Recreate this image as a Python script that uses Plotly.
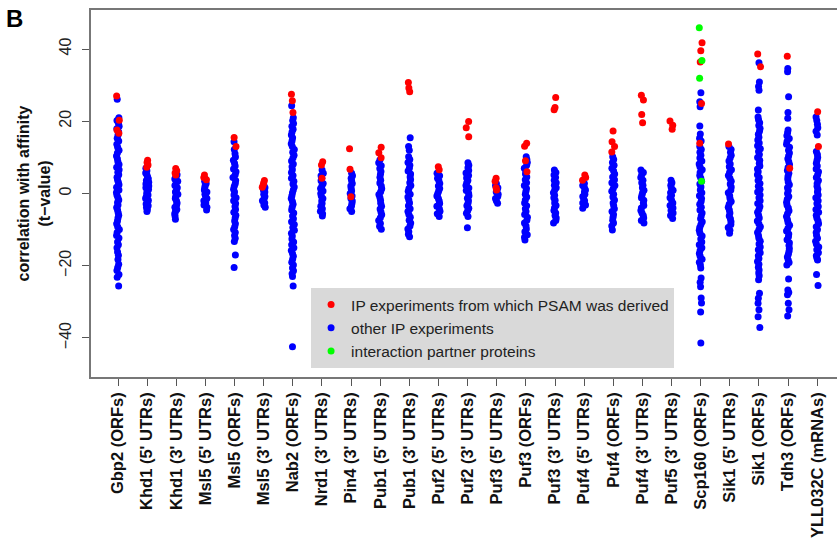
import plotly.graph_objects as go

categories = [
    "Gbp2 (ORFs)", "Khd1 (5' UTRs)", "Khd1 (3' UTRs)", "Msl5 (5' UTRs)",
    "Msl5 (ORFs)", "Msl5 (3' UTRs)", "Nab2 (ORFs)", "Nrd1 (3' UTRs)",
    "Pin4 (3' UTRs)", "Pub1 (5' UTRs)", "Pub1 (3' UTRs)", "Puf2 (5' UTRs)",
    "Puf2 (3' UTRs)", "Puf3 (5' UTRs)", "Puf3 (ORFs)", "Puf3 (3' UTRs)",
    "Puf4 (5' UTRs)", "Puf4 (ORFs)", "Puf4 (3' UTRs)", "Puf5 (3' UTRs)",
    "Scp160 (ORFs)", "Sik1 (5' UTRs)", "Sik1 (ORFs)", "Tdh3 (ORFs)",
    "YLL032C (mRNAs)",
]

# t-values of IP experiments from which the PSAM was derived (red)
psam_values = [
    [27.0, 20.3, 17.6, 16.7],
    [9.2, 8.6, 7.9, 7.3],
    [6.9, 6.3, 5.7, 5.1],
    [5.1, 4.4, 3.8],
    [15.5, 13.0],
    [3.6, 2.9, 2.3, 1.7],
    [27.5, 25.7, 22.4],
    [8.8, 7.9, 4.2],
    [12.4, 6.7, -0.9],
    [12.8, 11.3, 9.9],
    [30.7, 29.2, 28.2],
    [7.4, 6.6],
    [19.9, 18.2, 15.7],
    [4.2, 3.4, 1.6, 1.0],
    [13.9, 13.1, 9.1, 6.0],
    [26.6, 23.8, 23.2],
    [5.1, 4.4, 3.7],
    [17.3, 14.3, 13.0, 11.5],
    [27.2, 25.9, 21.9, 19.6],
    [20.1, 18.9, 17.8],
    [41.7, 39.5, 36.4, 24.9, 13.9],
    [13.7],
    [38.6, 35.1],
    [38.0, 7.0],
    [22.6, 13.0],
]

# t-values of the other IP experiments (blue)
other_values = [
    [26.1, 21.0, 20.2, 19.4, 18.6, 17.9, 17.0, 16.2, 15.3, 14.5, 13.6, 12.8, 12.0, 11.2,
     10.4, 9.6, 8.8, 8.0, 7.3, 6.6, 5.9, 5.2, 4.5, 3.8, 3.1, 2.4, 1.7, 1.0, 0.3, -0.4,
     -1.1, -1.8, -2.5, -3.2, -3.9, -4.6, -5.3, -6.0, -6.8, -7.6, -8.4, -9.2, -10.0, -10.8,
     -11.6, -12.3, -13.4, -14.2, -15.0, -16.2, -17.1, -18.3, -19.6, -20.5, -21.3, -22.4,
     -23.2, -25.6],
    [7.0, 6.3, 5.7, 5.1, 4.6, 4.1, 3.6, 3.1, 2.6, 2.1, 1.6, 1.1, 0.6, 0.1, -0.4, -0.9,
     -1.4, -1.9, -2.4, -2.9, -3.4, -3.9, -4.4, -5.0],
    [5.2, 4.6, 4.0, 3.4, 2.8, 2.2, 1.6, 1.0, 0.4, -0.2, -0.8, -1.4, -2.0, -2.6, -3.2,
     -3.8, -4.4, -5.0, -5.6, -6.2, -7.1],
    [4.0, 3.4, 2.8, 2.2, 1.6, 1.0, 0.4, -0.2, -0.8, -1.4, -2.0, -2.6, -3.2, -3.8, -4.6],
    [14.3, 12.2, 11.0, 10.1, 9.2, 8.4, 7.6, 6.8, 6.0, 5.2, 4.4, 3.6, 2.8, 2.0, 1.2, 0.4,
     -0.4, -1.2, -2.0, -2.8, -3.6, -4.4, -5.2, -6.0, -6.8, -7.6, -8.4, -9.2, -10.0, -10.8,
     -11.6, -12.4, -13.3, -17.0, -20.5],
    [2.2, 1.6, 1.0, 0.4, -0.2, -0.8, -1.4, -2.0, -2.6, -3.2, -3.8],
    [24.3, 21.0, 20.2, 19.4, 18.6, 17.8, 17.0, 16.2, 15.4, 14.6, 13.8, 13.0, 12.2, 11.4,
     10.6, 9.8, 9.0, 8.2, 7.4, 6.6, 5.8, 5.0, 4.2, 3.4, 2.6, 1.8, 1.0, 0.2, -0.6, -1.4,
     -2.2, -3.0, -3.8, -4.6, -5.4, -6.2, -7.0, -7.8, -8.6, -9.4, -10.2, -11.0, -11.8,
     -12.6, -13.4, -14.2, -15.0, -15.8, -16.6, -17.4, -18.2, -19.0, -19.8, -20.6, -21.4,
     -22.2, -23.0, -25.6, -42.4],
    [6.5, 5.6, 4.9, 4.2, 3.5, 2.8, 2.1, 1.4, 0.7, 0.0, -0.7, -1.4, -2.1, -2.8, -3.5, -4.2,
     -4.9, -5.6, -6.2],
    [5.6, 4.9, 4.2, 3.5, 2.8, 2.1, 1.4, 0.7, 0.0, -0.7, -1.4, -2.1, -2.8, -3.5, -4.2, -5.0],
    [9.3, 8.5, 7.7, 6.9, 6.1, 5.3, 4.5, 3.7, 2.9, 2.1, 1.3, 0.5, -0.3, -1.1, -1.9, -2.7,
     -3.5, -4.3, -5.1, -5.9, -6.7, -7.5, -8.3, -9.1, -9.9],
    [15.4, 13.0, 12.0, 10.2, 9.4, 8.6, 7.8, 7.0, 6.2, 5.4, 4.6, 3.8, 3.0, 2.2, 1.4, 0.6,
     -0.2, -1.0, -1.8, -2.6, -3.4, -4.2, -5.0, -5.8, -6.6, -7.4, -8.2, -9.0, -9.8, -10.6,
     -11.3, -12.0],
    [5.6, 4.9, 4.2, 3.5, 2.8, 2.1, 1.4, 0.7, 0.0, -0.7, -1.4, -2.1, -2.8, -3.5, -4.2, -4.9,
     -5.6, -6.4],
    [8.5, 7.8, 7.1, 6.4, 5.7, 5.0, 4.3, 3.6, 2.9, 2.2, 1.5, 0.8, 0.1, -0.6, -1.3, -2.0,
     -2.7, -3.4, -4.1, -4.8, -5.5, -6.4, -9.5],
    [2.8, 2.2, 1.6, 1.0, 0.4, -0.2, -0.8, -1.4, -2.0, -2.7],
    [10.2, 9.4, 8.6, 7.8, 7.0, 6.2, 5.4, 4.6, 3.8, 3.0, 2.2, 1.4, 0.6, -0.2, -1.0, -1.8,
     -2.6, -3.4, -4.2, -5.0, -5.8, -6.6, -7.4, -8.2, -9.0, -9.8, -10.6, -11.4, -12.1, -12.9],
    [6.5, 5.8, 5.1, 4.4, 3.7, 3.0, 2.3, 1.6, 0.9, 0.2, -0.5, -1.2, -1.9, -2.6, -3.3, -4.0,
     -4.7, -5.4, -6.1, -6.8, -7.5, -8.2],
    [2.8, 2.2, 1.6, 1.0, 0.4, -0.2, -0.8, -1.4, -2.0, -2.6, -3.2, -4.1],
    [10.2, 9.4, 8.6, 7.8, 7.0, 6.2, 5.4, 4.6, 3.8, 3.0, 2.2, 1.4, 0.6, -0.2, -1.0, -1.8,
     -2.6, -3.4, -4.2, -5.0, -5.8, -6.6, -7.4, -8.2, -9.0, -10.1],
    [6.5, 5.8, 5.1, 4.4, 3.7, 3.0, 2.3, 1.6, 0.9, 0.2, -0.5, -1.2, -1.9, -2.6, -3.3, -4.0,
     -4.7, -5.4, -6.1, -6.8, -7.5, -8.2],
    [3.7, 3.0, 2.3, 1.6, 0.9, 0.2, -0.5, -1.2, -1.9, -2.6, -3.3, -4.0, -4.7, -5.4, -6.1, -6.9],
    [27.9, 25.4, 24.0, 18.7, 16.5, 15.3, 14.5, 13.0, 12.2, 11.4, 10.6, 9.8, 9.0, 8.2, 7.4,
     6.6, 5.8, 5.0, 4.2, 3.4, 2.6, 1.8, 1.0, 0.2, -0.6, -1.4, -2.2, -3.0, -3.8, -4.6, -5.4,
     -6.2, -7.0, -7.8, -8.6, -9.4, -10.2, -11.0, -11.8, -12.6, -13.4, -14.2, -15.0, -15.8,
     -16.6, -17.4, -18.2, -19.0, -19.8, -20.6, -23.4, -24.6, -25.8, -28.9, -30.3, -32.8,
     -41.4],
    [13.0, 12.2, 11.4, 10.6, 9.8, 9.0, 8.2, 7.4, 6.6, 5.8, 5.0, 4.2, 3.4, 2.6, 1.8, 1.0,
     0.2, -0.6, -1.4, -2.2, -3.0, -3.8, -4.6, -5.4, -6.2, -7.0, -7.8, -8.6, -9.4, -10.2,
     -11.0],
    [36.2, 30.9, 29.6, 28.6, 23.1, 21.2, 20.4, 19.6, 18.8, 18.0, 17.2, 16.4, 15.6, 14.8,
     14.0, 13.2, 12.4, 11.6, 10.8, 10.0, 9.2, 8.4, 7.6, 6.8, 6.0, 5.2, 4.4, 3.6, 2.8, 2.0,
     1.2, 0.4, -0.4, -1.2, -2.0, -2.8, -3.6, -4.4, -5.2, -6.0, -6.8, -7.6, -8.4, -9.2,
     -10.0, -10.8, -11.6, -12.4, -13.2, -14.0, -14.8, -15.6, -16.4, -17.2, -18.0, -18.8,
     -19.6, -20.4, -21.2, -22.0, -22.8, -23.9, -27.6, -29.0, -30.4, -32.2, -34.1, -37.1],
    [34.6, 33.7, 26.8, 22.4, 20.8, 17.6, 16.8, 16.0, 15.2, 14.4, 13.6, 12.8, 12.0, 11.2,
     10.4, 9.6, 8.8, 8.0, 7.2, 6.4, 5.6, 4.8, 4.0, 3.2, 2.4, 1.6, 0.8, 0.0, -0.8, -1.6,
     -2.4, -3.2, -4.0, -4.8, -5.6, -6.4, -7.2, -8.0, -8.8, -9.6, -10.4, -11.2, -12.0,
     -12.8, -13.6, -14.4, -15.2, -16.0, -16.8, -17.6, -18.4, -19.1, -19.8, -23.7, -26.7,
     -27.4, -28.0, -30.4, -32.2, -33.9],
    [21.2, 20.2, 19.2, 18.2, 17.2, 16.2, 11.6, 10.8, 10.0, 9.2, 8.4, 7.6, 6.8, 6.0, 5.2,
     4.4, 3.6, 2.8, 2.0, 1.2, 0.4, -0.4, -1.2, -2.0, -2.8, -3.6, -4.4, -5.2, -6.0, -6.8,
     -7.6, -8.4, -9.2, -10.0, -10.8, -11.6, -12.4, -13.2, -14.0, -14.8, -15.6, -16.4,
     -17.2, -17.9, -18.4, -22.4, -25.5],
]

# interaction partner proteins (green), only for Scp160
partner_category = ["Scp160 (ORFs)"] * 4
partner_values = [45.9, 36.8, 31.9, 3.4]

series_names = [
    "IP experiments from which PSAM was derived",
    "other IP experiments",
    "interaction partner proteins",
]
series_colors = ["#ff0000", "#0000ff", "#00ff00"]

fig = go.Figure()


def strip(xs, ys, color):
    return go.Box(
        x=xs, y=ys, boxpoints="all", jitter=0.35, pointpos=0, width=0.32,
        fillcolor="rgba(0,0,0,0)", line=dict(width=0, color=color),
        marker=dict(color=color, size=7, opacity=1), hoveron="points",
        showlegend=False,
    )


bx, by = [], []
for cat, vals in zip(categories, other_values):
    bx += [cat] * len(vals)
    by += vals
fig.add_trace(strip(bx, by, series_colors[1]))

rx, ry = [], []
for cat, vals in zip(categories, psam_values):
    rx += [cat] * len(vals)
    ry += vals
fig.add_trace(strip(rx, ry, series_colors[0]))

fig.add_trace(strip(partner_category, partner_values, series_colors[2]))

# legend entries
for name, color in zip(series_names, series_colors):
    fig.add_trace(go.Scatter(
        x=[None], y=[None], mode="markers", name=name,
        marker=dict(color=color, size=7),
    ))

fig.update_layout(
    width=837, height=544,
    margin=dict(l=91, r=0, t=10, b=167),
    paper_bgcolor="white", plot_bgcolor="white",
    font=dict(family="Liberation Sans, Arial, sans-serif", color="#111"),
    boxmode="overlay",
    legend=dict(
        x=0.295, y=0.2425, xanchor="left", yanchor="top",
        bgcolor="#d9d9d9", borderwidth=0,
        font=dict(size=15.5, color="#222"),
        itemwidth=30, tracegroupgap=0,
    ),
    xaxis=dict(
        type="category", categoryorder="array", categoryarray=categories,
        range=[-0.927, 24.68],
        tickangle=-90, ticks="outside", ticklen=7, tickcolor="#555",
        tickfont=dict(size=16.5, weight="bold", color="#111"),
        showline=True, linecolor="#777", linewidth=1.5, mirror=True,
        showgrid=False, zeroline=False,
    ),
    yaxis=dict(
        range=[-50.8, 50.8], tickvals=[-40, -20, 0, 20, 40],
        tickangle=-90, ticks="outside", ticklen=7, tickcolor="#555",
        tickfont=dict(size=16, color="#222"), ticklabelstandoff=5,
        showline=True, linecolor="#777", linewidth=1.5,
        showgrid=False, zeroline=False,
        title=dict(
            text="correlation with affinity<br>(t\u2212value)",
            font=dict(size=16, weight="bold", color="#111"),
            standoff=2,
        ),
    ),
    annotations=[dict(
        text="<b>B</b>", xref="paper", yref="paper",
        x=-0.117, y=1.02, xanchor="left", yanchor="top",
        showarrow=False, font=dict(size=24, color="#000"),
    )],
)

fig.write_html("out.html")
